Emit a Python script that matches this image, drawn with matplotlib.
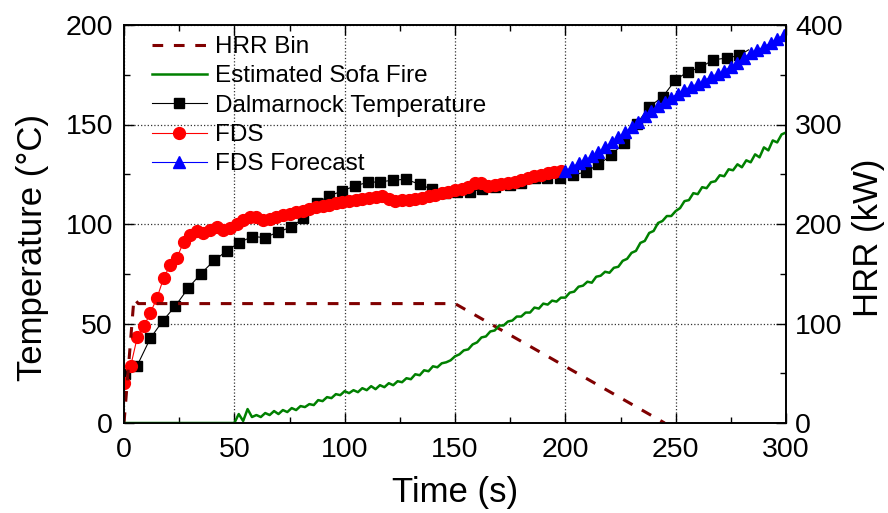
import matplotlib
matplotlib.use("Agg")
import matplotlib.pyplot as plt
from matplotlib.ticker import MultipleLocator

plt.rcParams['font.family'] = ['Liberation Sans', 'DejaVu Sans']

# HRR bin (kW)
bin_t = [0, 4.5, 6.5, 150, 245]
bin_hrr = [0, 125, 120, 120, 0]

# Estimated sofa fire HRR (kW)
sofa_t = [0] + list(range(50, 301, 2))
sofa_hrr = [0,
    0, 9, 2, 14, 6, 8, 6, 10, 8, 12, 9, 13, 11, 15, 13, 17, 16, 19, 18, 23,
    22, 26, 25, 29, 28, 32,
    30, 33, 31, 35, 33, 37, 34, 38, 36, 40, 38, 42, 41, 45, 44, 49, 48, 53,
    52, 57, 56, 60, 61, 63, 67, 69, 73, 74, 79, 81, 86, 87, 92, 93, 98, 98,
    102, 103, 107, 107, 111, 111, 116, 115, 120, 119, 123, 122, 126, 126,
    131, 132, 137, 138, 142, 141, 147, 148, 152, 151, 156, 157, 163, 165,
    171, 173, 181, 183, 191, 193, 201, 203, 208, 208, 213, 216, 223, 224,
    231, 230, 237, 236, 242, 243, 249, 248, 255, 254, 260, 257, 264, 262,
    270, 267, 277, 274, 284, 282, 290, 292]

# Dalmarnock measured temperature (°C)
dal_t = [0.5, 5.9, 11.9, 17.5, 23.2, 29.2, 34.8, 40.9, 46.6, 52.2,
         58.2, 63.9, 69.7, 75.6, 81.3, 87.3, 93.0, 98.8, 104.7, 110.4,
         116.0, 122.0, 127.7, 134.1, 139.6, 145.4, 151.0, 156.7, 162.4, 168.0,
         174.8, 180.1, 186.1, 191.7, 197.4, 203.4, 209.2, 215.0, 220.8, 226.4,
         232.4, 238.1, 244.2, 249.9, 255.5, 261.2, 267.1, 273.1, 278.8, 283.0]
dal_temp = [24.5, 28.7, 42.5, 51.2, 58.7, 67.9, 75.0, 81.7, 86.5, 90.7,
            93.7, 93.2, 95.9, 98.4, 102.9, 110.4, 114.2, 116.5, 119.2, 120.9,
            121.2, 122.0, 122.5, 119.9, 117.4, 115.4, 116.0, 116.2, 117.5, 118.7,
            119.5, 120.4, 122.9, 122.9, 123.2, 124.5, 126.2, 129.9, 134.5, 140.7,
            150.4, 159.0, 164.0, 172.4, 176.5, 178.7, 182.5, 183.4, 184.7, 187.5]

# FDS simulation (°C)
fds_t = list(range(0, 199, 3))
fds_temp = [20, 28.5, 43, 48.5, 55.5, 63, 73, 79.5, 83, 91,
            94.5, 96.5, 95.5, 97, 98.5, 97, 98, 100, 102, 103.5,
            103.5, 102, 102.5, 103.5, 104.5, 105, 106, 106.5, 107.5, 108.5,
            109, 109.5, 110.5, 111, 111.5, 112, 112.5, 113, 113.5, 114,
            112.5, 111.5, 112, 112, 112.5, 113, 114, 114.5, 115.5, 116,
            117, 117.5, 118.5, 120.5, 120.5, 119, 119.5, 120, 120.5, 121,
            122, 123, 124, 124.5, 125.5, 126, 126.5]

# FDS forecast (°C)
fc_t = list(range(200, 300, 3))
fc_temp = [126.5, 128.5, 130.5, 132, 134, 136, 138.5, 141, 143.5, 146,
           148.5, 151.5, 154.5, 157, 159.5, 161.5, 163.5, 165.5, 167.5, 169,
           170.5, 172, 174, 175.5, 177, 179, 181, 183.5, 186, 187.5,
           189, 191, 193, 195]

fig = plt.figure(figsize=(8.88, 5.13), dpi=100)
ax = fig.add_axes([124 / 888, 1 - 423 / 513, 662 / 888, 398 / 513])
ax2 = ax.twinx()

ax.set_xlim(0, 300)
ax.set_ylim(0, 200)
ax2.set_ylim(0, 400)

h_dal, = ax.plot(dal_t, dal_temp, color='black', lw=0.8, marker='s', ms=7,
                 markevery=slice(0, len(dal_t) - 1), label='Dalmarnock Temperature')
h_fds, = ax.plot(fds_t, fds_temp, color='red', lw=0.8, marker='o', ms=8.5,
                 label='FDS')
h_fc, = ax.plot(fc_t, fc_temp, color='blue', lw=0.8, marker='^', ms=8.5,
                label='FDS Forecast')

h_bin, = ax2.plot(bin_t, bin_hrr, color='#800000', lw=2.2,
                  linestyle=(0, (3.5, 3.5)), label='HRR Bin')
h_sofa, = ax2.plot(sofa_t, sofa_hrr, color='#008000', lw=1.8,
                   label='Estimated Sofa Fire')

# ticks, grid and spines
ax.xaxis.set_major_locator(MultipleLocator(50))
ax.xaxis.set_minor_locator(MultipleLocator(25))
ax.yaxis.set_major_locator(MultipleLocator(50))
ax.yaxis.set_minor_locator(MultipleLocator(25))
ax2.yaxis.set_major_locator(MultipleLocator(100))
ax2.yaxis.set_minor_locator(MultipleLocator(50))

ax.tick_params(which='both', direction='in', top=True, right=False,
               width=1, labelsize=20.5)
ax.tick_params(which='major', length=7)
ax.tick_params(which='minor', length=4.5)
ax.tick_params(axis='x', pad=10)
ax.tick_params(axis='y', pad=8)
ax2.tick_params(which='both', direction='in', width=1, labelsize=20.5, pad=6.5)
ax2.tick_params(which='major', length=7)
ax2.tick_params(which='minor', length=4.5)

ax.grid(True, which='major', linestyle=':', color='#333333', lw=0.9)
for a in (ax, ax2):
    for s in a.spines.values():
        s.set_linewidth(1.2)

fig.text(0.5124, 0.040, 'Time (s)', ha='center', va='center', fontsize=25)
fig.text(0.037, 0.517, 'Temperature (°C)', ha='center', va='center',
         rotation=90, fontsize=25)
fig.text(0.9786, 0.536, 'HRR (kW)', ha='center', va='center',
         rotation=90, fontsize=25)

ax2.legend(handles=[h_bin, h_sofa, h_dal, h_fds, h_fc], loc='upper left',
           bbox_to_anchor=(0.042, 0.972), frameon=False, fontsize=17.5,
           borderpad=0, borderaxespad=0, handlelength=2.26,
           handletextpad=0.33, labelspacing=0.3, numpoints=1)

fig.savefig('out.png', dpi=100)
